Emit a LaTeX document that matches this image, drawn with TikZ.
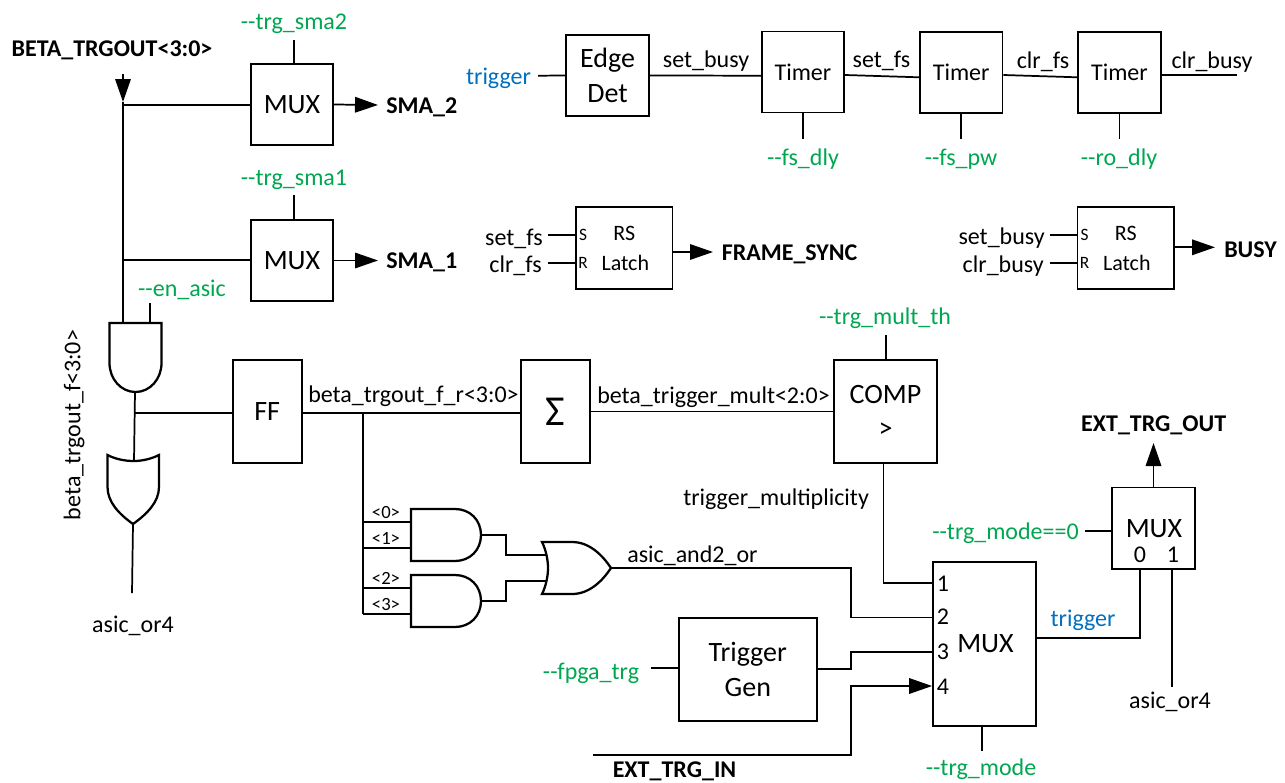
\documentclass[tikz,border=0pt]{standalone}
\usepackage{fontspec}
\setmainfont{Carlito}[Ligatures=TeXOff]
\usetikzlibrary{arrows.meta}
\usetikzlibrary{calc}
\tikzset{>=latex}
\definecolor{optcol}{HTML}{00A650}
\definecolor{trigcol}{HTML}{0070C0}
\def\px{0.75pt}
\tikzset{
  block/.style 2 args={draw=black,line width=1.3pt,minimum width=#1*\px,minimum height=#2*\px,inner sep=0pt,align=center,font=\fontsize{21}{26}\selectfont},
  timerblock/.style={block={82.5}{81},font=\fontsize{18}{22}\selectfont},
  latchblock/.style={block={96.5}{81.5}},
  wire/.style={line width=1.3pt,black},
  thickwire/.style={->,line width=1.3pt,black,>={Triangle[length=23*\px,width=15.5*\px]}},
  gate/.style={line width=1.7pt,black,fill=white},
  plain/.style={inner sep=0pt,font=\fontsize{18}{22}\selectfont},
  lbl/.style={plain,yshift=-1.5pt},
  option/.style={lbl,text=optcol},
  trig/.style={lbl,text=trigcol},
  port/.style={lbl,font=\fontsize{18}{22}\selectfont\bfseries},
  pinsmall/.style={plain,font=\fontsize{13}{15}\selectfont},
  bitlabel/.style={plain,font=\fontsize{14}{16}\selectfont},
  latchtext/.style={plain,font=\fontsize{16.5}{20}\selectfont},
  muxtext/.style={plain,font=\fontsize{21}{26}\selectfont},
}
\begin{document}
\begin{tikzpicture}[x=\px,y=-\px]
  \useasboundingbox (0,0) rectangle (1285,782);

  % --- 1. SMA outputs ---
  \node[port] (betaout) at (112,48) {BETA\_TRGOUT<3:0>};
  \node[block={82}{81}] (muxB) at (292,104.5) {MUX};
  \node[block={82}{81}] (muxA) at (292,260.5) {MUX};
  \node[option] (smaB) at (294,22) {--trg\_sma2};
  \node[option] (smaA) at (294,178) {--trg\_sma1};
  \node[port,anchor=west] (portB) at (386,105) {SMA\_2};
  \node[port,anchor=west] (portA) at (386,260) {SMA\_1};
  \coordinate (busTop) at (123,74);
  \coordinate (busArrow) at (123,102);
  \coordinate (tapB) at (123,105);
  \coordinate (tapA) at (123,260);
  \coordinate (smaBend) at (294,40);
  \coordinate (smaAend) at (294,195);
  \draw[thickwire] (busTop) -- (busArrow);
  \draw[wire] (busArrow) -- (tapB) -- (tapA) -- (123,323);
  \draw[wire] (tapB) -- (tapB -| muxB.west);
  \draw[wire] (tapA) -- (tapA -| muxA.west);
  \draw[wire] (smaBend) -- (smaBend |- muxB.north);
  \draw[wire] (smaAend) -- (smaAend |- muxA.north);
  \draw[thickwire] (muxB.east) -- (378,105);
  \draw[thickwire] (muxA.east) -- (378,260.5);

  % --- 2. Trigger timers ---
  \node[block={83}{81}] (edgedet) at (607.5,75.5) {Edge\\Det};
  \node[timerblock] (timerA) at (802.9,72) {Timer};
  \node[timerblock] (timerB) at (961.2,72.3) {Timer};
  \node[timerblock] (timerC) at (1119.4,72.3) {Timer};
  \node[trig] (trigin) at (498.5,76) {trigger};
  \node[lbl] (setbusyA) at (706,59) {set\_busy};
  \node[lbl] (setfsA) at (881.5,59) {set\_fs};
  \node[lbl] (clrfsA) at (1043,60) {clr\_fs};
  \node[lbl] (clrbusyA) at (1212,60) {clr\_busy};
  \node[option] (fsdly) at (803,157) {--fs\_dly};
  \node[option] (fspw) at (961,157) {--fs\_pw};
  \node[option] (rodly) at (1119,157) {--ro\_dly};
  \coordinate (trigend) at (538,75.7);
  \coordinate (busyend) at (1236.7,75);
  \draw[wire] (trigend) -- (edgedet.west);
  \draw[wire] (edgedet.east) -- (timerA.west |- 0,75.7);
  \draw[wire] (timerA.east |- 0,75) -- (timerB.west |- 0,77.3);
  \draw[wire] (timerB.east |- 0,75) -- (timerC.west |- 0,77.3);
  \draw[wire] (timerC.east |- 0,75) -- (busyend);
  \foreach \t in {timerA,timerB,timerC} {%
    \draw[wire] (\t.south) -- (\t.south |- 0,139);
  }

  % --- 3. RS latches ---
  \node[latchblock] (rsA) at (624.3,248) {};
  \node[latchblock] (rsB) at (1125.8,248) {};
  \foreach \r in {rsA,rsB} {%
    \node[latchtext] (\r top) at ($(\r)+(0,-15)$) {RS};
    \node[latchtext] (\r bot) at ($(\r)+(1,14.7)$) {Latch};
    \node[pinsmall] (\r S) at ($(\r.west)+(8,-13)$) {S};
    \node[pinsmall] (\r R) at ($(\r.west)+(8,15)$) {R};
  }
  \node[lbl,anchor=east] (setfsB) at (543,236.5) {set\_fs};
  \node[lbl,anchor=east] (clrfsB) at (542,264) {clr\_fs};
  \node[lbl,anchor=east] (setbusyB) at (1045,236.5) {set\_busy};
  \node[lbl,anchor=east] (clrbusyB) at (1044,264) {clr\_busy};
  \node[port,anchor=west] (framesync) at (721.5,252) {FRAME\_SYNC};
  \node[port,anchor=west] (busy) at (1224,248) {BUSY};
  \draw[wire] (548,234.7) -- (548,234.7 -| rsA.west);
  \draw[wire] (548,263) -- (548,263 -| rsA.west);
  \draw[wire] (1050,234.7) -- (1050,234.7 -| rsB.west);
  \draw[wire] (1050,263) -- (1050,263 -| rsB.west);
  \draw[thickwire] (rsA.east |- 0,252) -- (713,252);
  \draw[thickwire] (rsB.east |- 0,247.3) -- (1215,247.3);

  % --- 4. ASIC gates on the left ---
  \coordinate (enPin) at (150,303);
  \coordinate (andOut) at (135,392);
  \coordinate (orIn) at (134,461);
  \coordinate (orOut) at (133,524);
  \coordinate (orEnd) at (132,593);
  \coordinate (ffTap) at (134.5,413);
  \node[option] (enasic) at (182,288) {--en\_asic};
  \node[plain,rotate=90] (betaf) at (74,425) {beta\_trgout\_f<3:0>};
  \node[lbl] (orlabelA) at (133,624) {asic\_or4};
  \draw[gate] (109.5,323) -- (161.5,323) -- (161.5,363)
  .. controls (161.5,379) and (150,392) .. (135.5,392)
  .. controls (121,392) and (109.5,379) .. (109.5,363) -- cycle;
  \draw[gate] (107.5,455) .. controls (115,459) and (125,461) .. (133.5,461)
  .. controls (142,461) and (151,459) .. (159,455) -- (159,487)
  .. controls (159,502) and (147,514) .. (133,524)
  .. controls (119,514) and (107.5,502) .. (107.5,487) -- cycle;
  \draw[wire] (enPin) -- (150,323);
  \draw[wire] (andOut) -- (orIn);
  \draw[wire] (orOut) -- (orEnd);

  % --- 5. Multiplicity path ---
  \node[block={69}{103}] (ff) at (267.25,411.5) {FF};
  \node[block={69}{103},font=\fontsize{32}{34}\selectfont] (sigma) at (555.5,411.5) {Σ};
  \node[block={103.5}{103}] (comp) at (885.5,411.5) {COMP\\>};
  \node[lbl,anchor=west] (ffrlabel) at (308,394) {beta\_trgout\_f\_r<3:0>};
  \node[lbl,anchor=west] (multlabel) at (597,395) {beta\_trigger\_mult<2:0>};
  \node[option] (multth) at (885,316) {--trg\_mult\_th};
  \node[lbl,anchor=west] (triglabel) at (683,497) {trigger\_multiplicity};
  \coordinate (busTap) at (363,412.7);
  \draw[wire] (ffTap) -- (ffTap -| ff.west);
  \draw[wire] (ff.east |- busTap) -- (sigma.west |- busTap);
  \draw[wire] (sigma.east) -- (comp.west);
  \draw[wire] (885.7,335) -- (885.7,335 |- comp.north);

  % --- 6. AND2 / OR section ---
  \coordinate (busEnd) at (363,614);
  \draw[wire] (busTap) -- (busEnd);
  \foreach \ytop/\bita/\bitb in {509/0/1,575/2/3} {%
    \draw[wire] (363,\ytop+13) -- (411,\ytop+13);
    \draw[wire] (363,\ytop+39) -- (411,\ytop+39);
    \draw[gate] (411,\ytop) -- (455,\ytop) .. controls (470,\ytop) and (481,\ytop+11) .. (481,\ytop+26)
    .. controls (481,\ytop+41) and (470,\ytop+52) .. (455,\ytop+52) -- (411,\ytop+52) -- cycle;
    \node[bitlabel] (bit\bita) at (386,\ytop+3) {<\bita>};
    \node[bitlabel] (bit\bitb) at (386,\ytop+29.5) {<\bitb>};
  }
  \draw[wire] (481,535) -- (506,535) -- (506,555) -- (546,555);
  \draw[wire] (481,601) -- (506,601) -- (506,581) -- (546,581);
  \draw[gate] (542,542) .. controls (546,550) and (548,560) .. (548,568)
  .. controls (548,576) and (546,586) .. (542,594) -- (572,594)
  .. controls (590,594) and (603,580) .. (611,568)
  .. controls (603,556) and (590,542) .. (572,542) -- cycle;
  \node[lbl,anchor=west] (andorlabel) at (627,554) {asic\_and2\_or};

  % --- 7. Output multiplexers ---
  \node[block={103}{164}] (muxbig) at (984.5,644) {};
  \node[muxtext] (muxbigtext) at (985.5,643.5) {MUX};
  \node[block={83}{81.5}] (muxout) at (1153.5,528.3) {};
  \node[muxtext] (muxouttext) at (1154,528.5) {MUX};
  \foreach \n/\ypos in {1/584,2/617,3/652,4/686.5} {%
    \node[plain] (pin\n) at (943,\ypos) {\n};
  }
  \node[plain] (sel0) at (1140,555) {0};
  \node[plain] (sel1) at (1173,555) {1};
  \node[block={137.7}{103}] (trggen) at (747.8,669.2) {Trigger\\Gen};
  \node[option] (fpgatrg) at (591,671) {--fpga\_trg};
  \node[option] (trgmode) at (981,767) {--trg\_mode};
  \node[option] (trgmodezero) at (1005.5,531) {--trg\_mode==0};
  \node[trig] (trigout) at (1083,618) {trigger};
  \node[lbl] (orlabelB) at (1170,700) {asic\_or4};
  \node[port] (extout) at (1153.7,423) {EXT\_TRG\_OUT};
  \node[port,anchor=west] (extin) at (612.5,769) {EXT\_TRG\_IN};
  \coordinate (extstart) at (593.3,755);
  \draw[wire] (883.5,463) -- (883.5,583) -- (muxbig.west |- 0,583);
  \draw[wire] (611,568) -- (851,568) -- (851,617.5) -- (muxbig.west |- 0,617.5);
  \draw[wire] (trggen.east) -- (851,669.2) -- (851,652) -- (muxbig.west |- 0,652);
  \draw[wire] (651,668) -- (trggen.west |- 0,668);
  \draw[thickwire] (extstart) -- (851,755) -- (851,686) -- (muxbig.west |- 0,686);
  \draw[wire] (982,751) -- (982,751 |- muxbig.south);
  \draw[wire] (muxbig.east |- 0,638) -- (1140,638) -- (1140,569);
  \draw[wire] (1172,687) -- (1172,569);
  \draw[wire] (1085,531) -- (1085,531 -| muxout.west);
  \draw[thickwire] (muxout.north) -- (1153.5,443);
\end{tikzpicture}
\end{document}
